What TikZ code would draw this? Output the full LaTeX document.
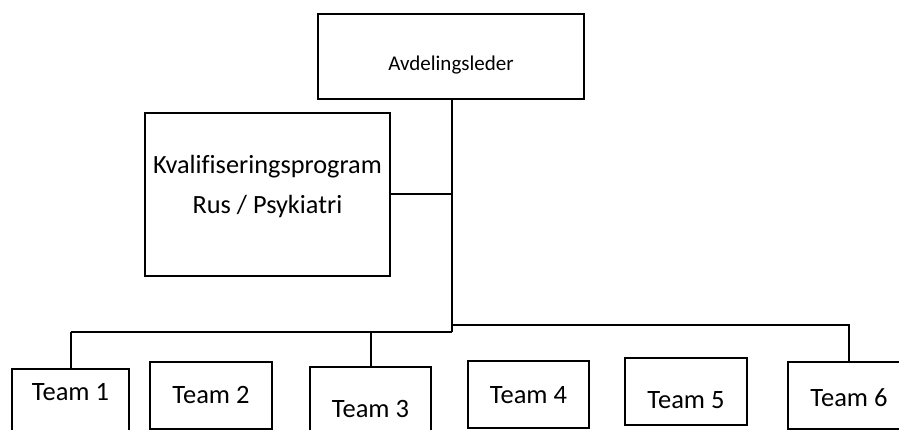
\documentclass[tikz,border=0pt]{standalone}
\usepackage{fontspec}
\setmainfont{Carlito}[Ligatures=NoCommon]
% two centred lines with a fixed 40pt baseline distance
\newcommand\kvaltext{\vtop{\baselineskip=40pt\lineskiplimit=-100pt\halign{\hfil##\hfil\cr Kvalifiseringsprogram\cr Rus / Psykiatri\cr}}}
\begin{document}
\begin{tikzpicture}[x=1pt,y=-1pt,
  box/.style={draw,line width=2pt,inner sep=0pt,anchor=north},
  teamfont/.style={font=\fontsize{26.5}{31}\selectfont},
  conn/.style={line width=2pt}]
\useasboundingbox (0,0) rectangle (899,430);
\clip (0,0) rectangle (899,430);

% management box
\node[box,minimum width=266pt,text height=56.5pt,text depth=28.5pt,
      font=\fontsize{21}{25}\selectfont] (lead) at (451,13) {Avdelingsleder};

% qualification programme box
\node[box,minimum width=245pt,text height=61pt,text depth=102pt,
      font=\fontsize{26.3}{31}\selectfont] (kval) at (267.5,112) {\kvaltext};

% team boxes
\node[box,teamfont,minimum width=117pt,text height=31pt,text depth=46pt]   (t1) at (70.5,368) {Team 1};
\node[box,teamfont,minimum width=122pt,text height=41pt,text depth=26pt]   (t2) at (211,361)  {Team 2};
\node[box,teamfont,minimum width=121pt,text height=50pt,text depth=29pt]   (t3) at (370.5,366) {Team 3};
\node[box,teamfont,minimum width=121pt,text height=42pt,text depth=25pt]   (t4) at (528.5,360) {Team 4};
\node[box,teamfont,minimum width=122pt,text height=50pt,text depth=17pt]   (t5) at (686,357)  {Team 5};
\node[box,teamfont,minimum width=122pt,text height=44.5pt,text depth=22.5pt] (t6) at (849,361) {Team 6};

% junctions of the spine
\coordinate (jl) at (452,332);
\coordinate (jr) at (452,325);

% connectors
\draw[conn] (lead.south -| jl) -- (jl);
\draw[conn] (kval.east) -- (kval.east -| jl);
\draw[conn,line width=2.8pt] (t1.north |- jl) -- (jl);
\draw[conn] (t1.north) -- (t1.north |- jl);
\draw[conn] (t3.north) -- (t3.north |- jl);
\draw[conn] (jr) -| (t6.north);
\end{tikzpicture}
\end{document}
